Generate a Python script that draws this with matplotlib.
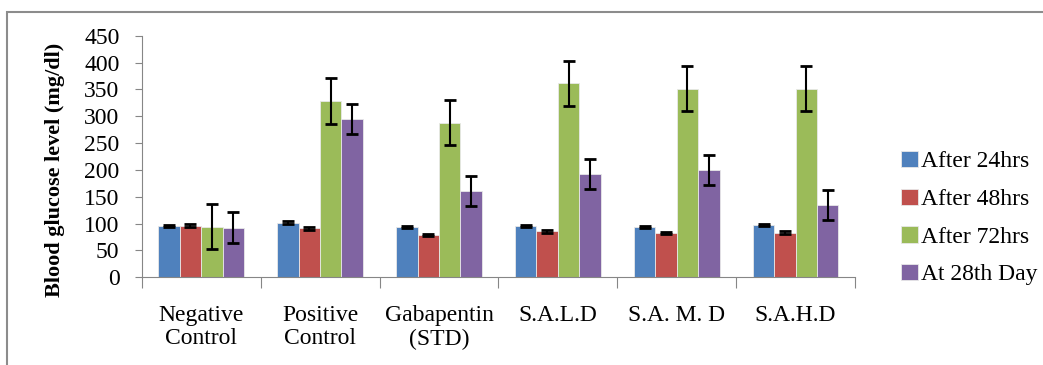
import matplotlib.pyplot as plt
import numpy as np
from matplotlib.patches import Rectangle

# data
groups = ['Negative\nControl', 'Positive\nControl', 'Gabapentin\n(STD)',
          'S.A.L.D', 'S.A. M. D', 'S.A.H.D']
series = ['After 24hrs', 'After 48hrs', 'After 72hrs', 'At 28th Day']
h24 = [96, 102, 93, 96, 93, 97]
h48 = [96, 91, 79, 86, 82, 83]
h72 = [94, 328, 288, 361, 351, 351]
d28 = [92, 294, 161, 192, 199, 135]
e24 = [2, 2, 2, 2, 2, 2]
e48 = [3, 3, 2, 3, 2, 3]
e72 = [42, 43, 42, 42, 42, 42]
e28 = [29, 28, 28, 28, 28, 28]
colors = ['#4F81BD', '#C0504D', '#9BBB59', '#8064A2']

plt.rcParams['font.family'] = ['Liberation Serif', 'DejaVu Serif']

fig = plt.figure(figsize=(10.43, 3.65), dpi=100)
fig.patches.append(Rectangle((7/1043, -0.1), 1.2, 1.1 - 12/365, transform=fig.transFigure,
                             fill=False, edgecolor='#8c8c8c', linewidth=1.5))
ax = fig.add_axes([0.1359, 0.2403, 0.8198 - 0.1359, 0.9022 - 0.2403])

x = np.arange(len(groups))
w = 0.18
vals = [h24, h48, h72, d28]
errs = [e24, e48, e72, e28]
for i in range(4):
    ax.bar(x + (i - 1.5) * w, vals[i], w, color=colors[i], edgecolor='#e8e8e8',
           linewidth=0.6, label=series[i],
           yerr=errs[i], error_kw=dict(ecolor='black', elinewidth=1.5, capsize=4, capthick=2))

ax.set_xlim(-0.5, len(groups) - 0.5)
ax.set_ylim(0, 450)
ax.set_yticks(np.arange(0, 451, 50))
ax.tick_params(axis='y', labelsize=17, length=5, color='#868686', pad=11)
ax.set_xticks(np.arange(-0.5, len(groups), 1))
ax.set_xticklabels([])
ax.tick_params(axis='x', which='major', length=8, color='#868686')
ax.set_xticks(x, minor=True)
ax.set_xticklabels(groups, minor=True, fontsize=17, linespacing=1.15)
ax.tick_params(axis='x', which='minor', length=0, pad=20)
for s in ['top', 'right']:
    ax.spines[s].set_visible(False)
for s in ['left', 'bottom']:
    ax.spines[s].set_color('#868686')
ax.set_ylabel('Blood glucose level (mg/dl)', fontsize=16, fontweight='bold')
ax.yaxis.set_label_coords(-0.107, 0.446)

ax.legend(loc='center left', bbox_to_anchor=(1.035, 0.245), frameon=False, fontsize=17,
          handlelength=0.7, handleheight=0.7, handletextpad=0.15, labelspacing=0.68)

fig.savefig('out.png', dpi=100)
